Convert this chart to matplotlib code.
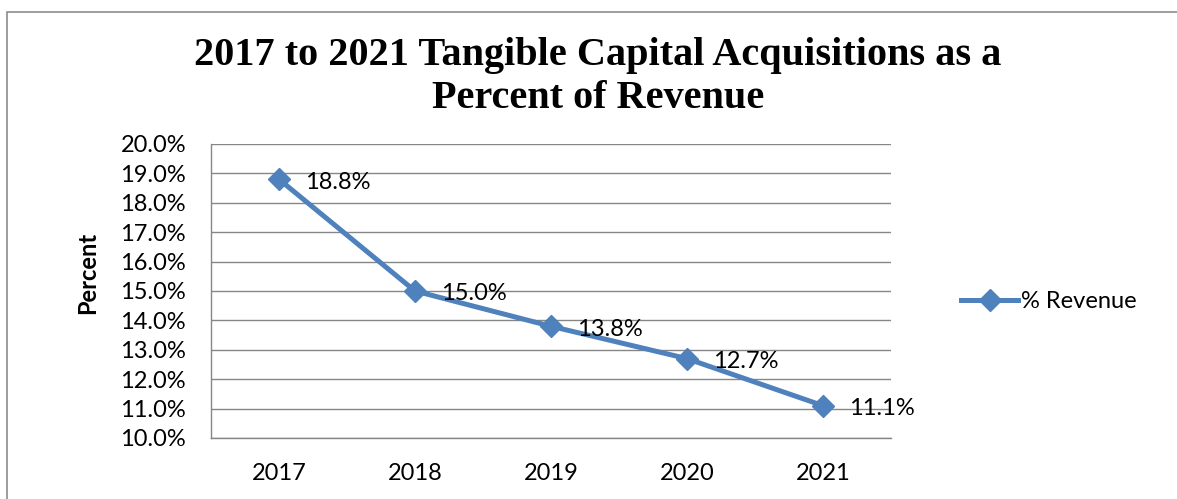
import matplotlib.pyplot as plt
from matplotlib.patches import Rectangle
from matplotlib.ticker import FuncFormatter

years = ['2017', '2018', '2019', '2020', '2021']
pct_revenue = [18.8, 15.0, 13.8, 12.7, 11.1]
series_name = '% Revenue'
title = '2017 to 2021 Tangible Capital Acquisitions as a\nPercent of Revenue'

blue = '#4F81BD'
grid_gray = '#868686'
label_font = 'Lato'
fs = 17

fig = plt.figure(figsize=(11.77, 4.99), dpi=100)
ax = fig.add_axes([211 / 1177, 1 - 438 / 499, 680 / 1177, 294 / 499])

# chart border (runs off the right and bottom edges like the source)
fig.patches.append(Rectangle((7 / 1177, -0.1), 1.2, 1 - 12 / 499 + 0.1,
                             transform=fig.transFigure, fill=False,
                             edgecolor='#8c8c8c', linewidth=1.2))

x = list(range(len(years)))
ax.plot(x, pct_revenue, color=blue, linewidth=3.6, marker='D', markersize=11,
        label=series_name, zorder=3)

for xi, v in zip(x, pct_revenue):
    ax.annotate(f'{v:.1f}%', (xi, v), xytext=(19, -2), textcoords='offset points',
                ha='left', va='center', fontsize=fs, family=label_font)

ax.set_xlim(-0.5, len(years) - 0.5)
ax.set_ylim(10, 20)
ax.set_yticks(range(10, 21))
ax.yaxis.set_major_formatter(FuncFormatter(lambda v, p: f'{v:.1f}%'))
ax.set_xticks(x)
ax.set_xticklabels(years)
ax.tick_params(length=0, labelsize=fs)
ax.tick_params(axis='y', pad=18)
ax.tick_params(axis='x', pad=18)
for lab in ax.get_xticklabels() + ax.get_yticklabels():
    lab.set_family(label_font)

ax.grid(axis='y', color=grid_gray, linewidth=1)
ax.set_axisbelow(True)
for side in ['top', 'right']:
    ax.spines[side].set_visible(False)
for side in ['left', 'bottom']:
    ax.spines[side].set_color(grid_gray)
    ax.spines[side].set_linewidth(1)

ax.set_ylabel('Percent', fontsize=fs, fontweight='bold', family=label_font)
ax.yaxis.set_label_coords(-112 / 680, (438 - 273) / 294)

fig.text(598 / 1177, 1 - 55 / 499, title.split('\n')[0], ha='center', va='center',
         fontsize=29, fontweight='bold', family='Liberation Serif')
fig.text(598 / 1177, 1 - 98 / 499, title.split('\n')[1], ha='center', va='center',
         fontsize=29, fontweight='bold', family='Liberation Serif')

leg = fig.legend(loc='center left', bbox_to_anchor=(940 / 1177, 1 - 302 / 499),
                 frameon=False, prop={'family': label_font, 'size': fs},
                 handlelength=2.4, handletextpad=0.15)

fig.savefig('out.png', dpi=100)
